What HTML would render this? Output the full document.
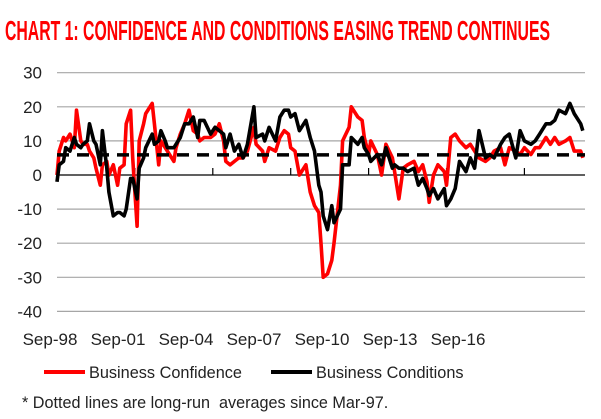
<!DOCTYPE html>
<html><head><meta charset="utf-8"><style>
body{margin:0;background:#fff;}
#wrap{position:relative;width:601px;height:419px;overflow:hidden;font-family:"Liberation Sans",sans-serif;}
</style></head><body>
<div id="wrap">
<svg id="svg" width="601" height="419" style="position:absolute;left:0;top:0">
<text x="5" y="40" textLength="545" lengthAdjust="spacingAndGlyphs" font-family="Liberation Sans Narrow, Liberation Sans, sans-serif" font-weight="bold" font-size="28" fill="#ff0000">CHART 1: CONFIDENCE AND CONDITIONS EASING TREND CONTINUES</text>
</svg>
</div>
<script>
const yTicks=[30,20,10,0,-10,-20,-30,-40];
const xLabels=["Sep-98","Sep-01","Sep-04","Sep-07","Sep-10","Sep-13","Sep-16"];
const confMonths=[0,1,3,4,6,8,9,11,12,14,15,17,18,20,21,23,24,26,28,29,31,32,34,35,37,38,40,41,44,45,47,48,50,51,54,55,57,59,61,63,65,66,68,71,73,75,77,78,80,82,84,86,88,91,92,95,96,98,101,103,105,107,108,110,112,115,117,119,121,122,123,125,127,128,131,132,135,136,139,141,142,144,145,148,150,152,155,156,158,160,162,165,167,169,171,172,174,176,179,180,182,184,186,189,191,193,195,198,200,202,205,207,209,212,214,216,219,221,223,226,228,230,232,235,237,239,242,243];
const confValues=[0,7,11,10,12,8,19,10,9,9,7,5,2,-3,3,4,0,3,-3,2,3,15,19,5,-15,10,15,18,21,15,3,10,8,7,4,8,12,15,19,13,12,10,11,11,12,15,10,4,3,4,5,5,7,14,9,7,4,8,7,11,13,12,8,7,0,3,-5,-9,-11,-20,-30,-29,-25,-20,-3,10,14,20,17,16,11,6,10,6,0,9,5,1,-7,2,3,4,1,3,-2,-8,0,3,1,-3,11,12,10,8,9,7,5,4,5,7,8,3,8,7,6,8,6,8,8,11,9,11,9,10,11,7,7,5,3];
const condMonths=confMonths;
const condValues=[-2,3,4,8,7,11,9,8,9,10,15,10,9,3,13,2,-5,-12,-11,-11,-12,-10,-1,-1,-7,2,5,8,12,9,10,13,10,8,8,9,11,15,15,17,11,16,16,12,14,13,12,8,12,7,9,5,9,20,11,12,10,14,10,17,19,19,17,18,13,16,11,7,-3,-5,-12,-16,-9,-14,-10,3,3,11,9,11,8,6,4,6,3,8,2,3,2,2,1,2,-3,-1,-4,-6,-4,-7,-4,-9,-7,-4,4,1,5,2,13,5,6,5,9,11,12,5,13,10,9,10,12,15,15,16,19,18,21,18,15,13,11];
const avgConf=[5.9];
const totalMonths=[244];

const svg=document.getElementById('svg');
const NS='http://www.w3.org/2000/svg';
const X0=57,X1=585,Y0=175,PX=3.41;
function xs(m){return X0+m*(X1-X0)/totalMonths[0];}
function ys(v){return Y0-v*PX;}
function mk(t,a){const e=document.createElementNS(NS,t);for(const k in a)e.setAttribute(k,a[k]);svg.appendChild(e);return e;}
yTicks.forEach(v=>{
 if(v!==0){const g=mk('line',{x1:X0,x2:X1,y1:ys(v),y2:ys(v),stroke:'#a6a6a6','stroke-width':1.2});
 
 }
 const t=mk('text',{x:42,y:ys(v)+6,'text-anchor':'end','font-size':17,fill:'#222','font-family':'Liberation Sans, sans-serif'});
 t.textContent=v;
 
 
});
const z=mk('line',{x1:X0,x2:X1,y1:Y0,y2:Y0,stroke:'#000','stroke-width':1.2});


for(let i=1;i<7;i++){const tk=mk('line',{x1:xs(i*36),x2:xs(i*36),y1:Y0,y2:Y0-7,stroke:'#000','stroke-width':1.2});
 
 }
xLabels.forEach((l,i)=>{const t=mk('text',{x:50+i*68,y:345,'text-anchor':'middle','font-size':17,fill:'#222','font-family':'Liberation Sans, sans-serif'});
 t.textContent=l;
 
 });
function line(ms,vs,col,name){const d=ms.map((m,i)=>(i?'L':'M')+xs(m).toFixed(1)+','+ys(vs[i]).toFixed(1)).join('');
 const p=mk('path',{d:d,fill:'none',stroke:col,'stroke-width':3.6,'stroke-linejoin':'round'});
 
 }
line(confMonths,confValues,'#ff0000','business-confidence-line');
line(condMonths,condValues,'#000000','business-conditions-line');
const av=mk('line',{x1:X0,x2:X1,y1:ys(avgConf[0]),y2:ys(avgConf[0]),stroke:'#000','stroke-width':3.5,'stroke-dasharray':'12 8'});


const l1=mk('line',{x1:44,x2:85,y1:372,y2:372,stroke:'#ff0000','stroke-width':4});


const t1=mk('text',{x:89,y:378,'font-size':16.3,fill:'#222','font-family':'Liberation Sans, sans-serif'});t1.textContent='Business Confidence';


const l2=mk('line',{x1:271,x2:312,y1:372,y2:372,stroke:'#000','stroke-width':4});


const t2=mk('text',{x:316,y:378,'font-size':16.3,fill:'#222','font-family':'Liberation Sans, sans-serif'});t2.textContent='Business Conditions';


const fn=mk('text',{x:22,y:408,'font-size':16.2,fill:'#222','font-family':'Liberation Sans, sans-serif'});fn.textContent='* Dotted lines are long-run  averages since Mar-97.';
fn.style.whiteSpace='pre';


</script>
</body></html>
